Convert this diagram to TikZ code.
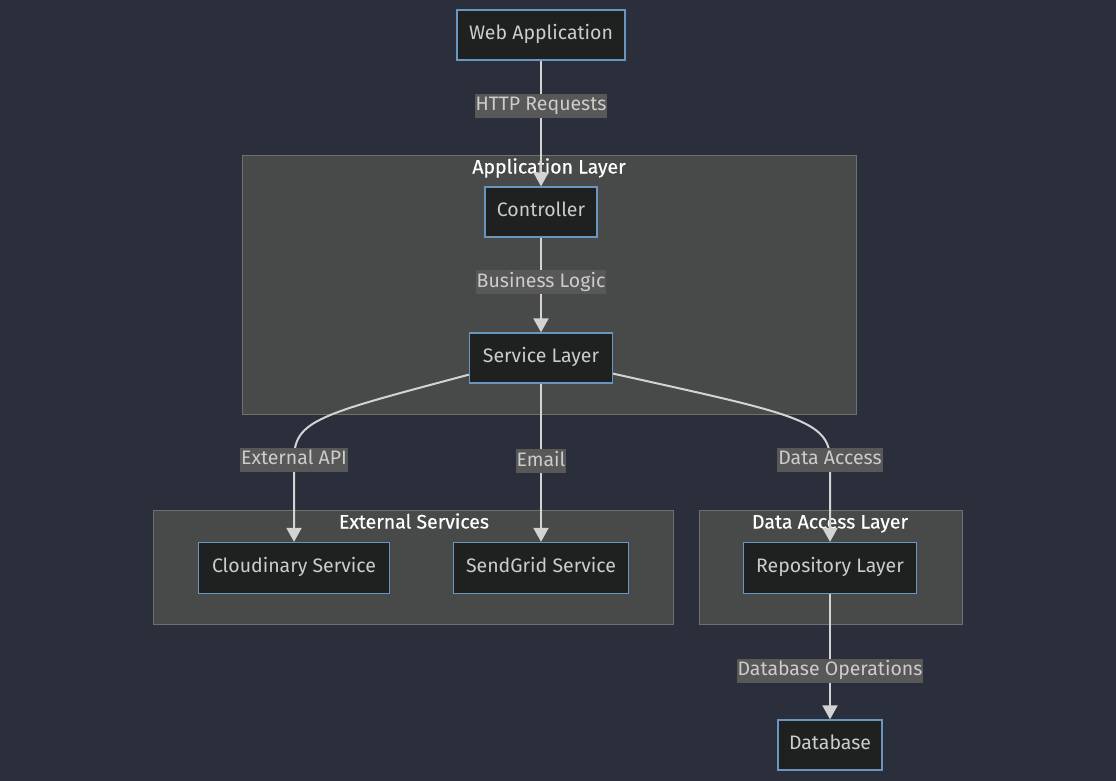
\documentclass[tikz,border=0pt]{standalone}
\usepackage{fontspec}
\setmainfont{Fira Sans}
\usetikzlibrary{positioning, arrows.meta}
\definecolor{bgcol}{HTML}{2A2F3B}
\definecolor{clfill}{HTML}{484949}
\definecolor{cldraw}{HTML}{6E7070}
\definecolor{boxfill}{HTML}{1F2020}
\definecolor{boxdraw}{HTML}{6A95C0}
\definecolor{lblfill}{HTML}{585858}
\definecolor{txtcol}{HTML}{CCCCCC}
\definecolor{linecol}{HTML}{D3D3D3}

\begin{document}
\begin{tikzpicture}[on grid,
  box/.style={draw=boxdraw,fill=boxfill,text=txtcol,line width=1.3pt,minimum height=50pt,inner sep=0pt,text height=13pt,text depth=4pt,font=\fontsize{19.5}{23}\selectfont},
  cluster/.style={draw=cldraw,fill=clfill,line width=1pt},
  title/.style={text=white,text height=13pt,text depth=4pt,font=\fontsize{19.5}{23}\selectfont\addfontfeature{FakeBold=0.5}},
  lbl/.style={fill=lblfill,text=txtcol,inner xsep=1pt,inner ysep=3pt,text height=14pt,text depth=4pt,font=\fontsize{19.5}{23}\selectfont},
  flow/.style={draw=linecol,line width=2pt,-{Triangle[width=15pt,length=14pt,fill=linecol]}}]
\useasboundingbox[fill=bgcol] (0pt,0pt) rectangle (1116pt,-781pt);

% clusters
\draw[cluster] (242pt,-155pt) rectangle (856pt,-414pt);
\draw[cluster] (153pt,-510pt) rectangle (673pt,-624pt);
\draw[cluster] (699pt,-510pt) rectangle (962pt,-624pt);
\node[title] (applayer) at (549pt,-169pt) {Application Layer};
\node[title] (extlayer) at (414pt,-524pt) {External Services};
\node[title] (datalayer) at (830pt,-524pt) {Data Access Layer};

\node[box,minimum width=168pt] (web) at (541pt,-35pt) {Web Application};
\node[box,minimum width=112pt] (ctrl) [below=177pt of web] {Controller};
\node[box,minimum width=143pt] (svc) [below=146pt of ctrl] {Service Layer};
\node[box,minimum width=175pt,minimum height=51pt] (mail) [below=210pt of svc] {SendGrid Service};
\node[box,minimum width=191pt,minimum height=51pt] (cloud) [left=247pt of mail] {Cloudinary Service};
\node[box,minimum width=173pt,minimum height=51pt] (repo) [right=289pt of mail] {Repository Layer};
\node[box,minimum width=104pt] (db) [below=177pt of repo] {Database};

\path[flow]
(web) edge node[lbl,pos=0.36] {HTTP Requests} (ctrl)
(ctrl) edge node[lbl,pos=0.47] {Business Logic} (svc)
(svc) edge node[lbl,pos=0.49] {Email} (mail)
(repo) edge node[lbl,pos=0.61] {Database Operations} (db);

\draw[flow] ([yshift=9pt]svc.south west) .. controls +(-150pt,-40pt) and +(0pt,40pt) .. ([yshift=82pt]cloud.north)
  node[lbl] {External API} -- (cloud.north);
\draw[flow] ([yshift=10pt]svc.south east) .. controls +(180pt,-40pt) and +(0pt,40pt) .. ([yshift=82pt]repo.north)
  node[lbl] {Data Access} -- (repo.north);
\end{tikzpicture}
\end{document}
